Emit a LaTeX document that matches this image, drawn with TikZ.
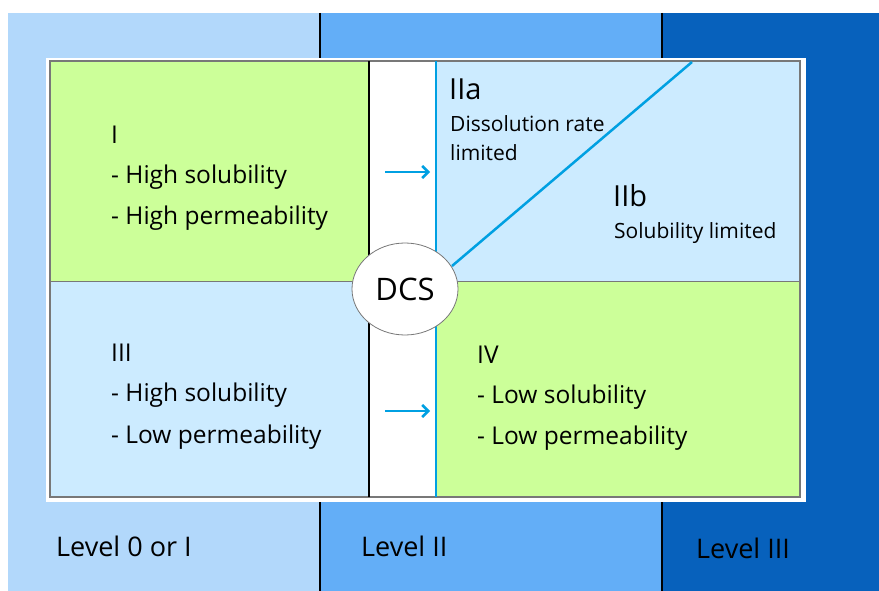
\documentclass[tikz,border=0pt]{standalone}
\usepackage{fontspec}
\setmainfont{Open Sans}
\usetikzlibrary{arrows.meta,shapes.geometric}
\definecolor{bandA}{RGB}{178,216,251}
\definecolor{bandB}{RGB}{99,174,247}
\definecolor{bandC}{RGB}{7,97,188}
\definecolor{qgreen}{RGB}{204,255,153}
\definecolor{qblue}{RGB}{204,235,255}
\definecolor{lineblue}{RGB}{0,160,226}
\definecolor{frame}{RGB}{120,120,120}
\tikzset{
  txt/.style={anchor=base west, inner sep=0pt, font=\fontsize{24.5}{24.5}\selectfont},
  small/.style={anchor=base west, inner sep=0pt, font=\fontsize{21}{21}\selectfont},
  big/.style={anchor=base west, inner sep=0pt, font=\fontsize{29}{29}\selectfont},
  lvl/.style={anchor=base west, inner sep=0pt, font=\fontsize{27}{27}\selectfont},
  blueline/.style={draw=lineblue, line width=2pt},
  flowarrow/.style={draw=lineblue, line width=2.5pt, -{Straight Barb[length=6pt,width=12pt,line width=2.5pt]}},
  divider/.style={draw=black, line width=2pt}
}
\begin{document}
\begin{tikzpicture}[x=1pt,y=-1pt]
\useasboundingbox (0,0) rectangle (879,591);
% level bands
\fill[bandA] (8,13) rectangle (320,591);
\fill[bandB] (320,13) rectangle (662,591);
\fill[bandC] (662,13) rectangle (879,591);
\draw[divider] (320,13) -- (320,58);
\draw[divider] (662,13) -- (662,58);
\draw[divider] (320,502) -- (320,591);
\draw[divider] (662,502) -- (662,591);
% white panel
\fill[white] (46,58) rectangle (806,502);
% quadrants
\fill[qgreen] (50,61) rectangle (369,281);
\fill[qblue] (50,281) rectangle (369,497);
\fill[white] (369,61) rectangle (436,497);
\fill[qblue] (436,61) rectangle (800,281);
\fill[qgreen] (436,281) rectangle (800,497);
\draw[frame, line width=0.8pt] (50,281) -- (800,281);
\draw[frame, line width=1.5pt] (50,61) rectangle (800,497);
\draw[divider, line width=2.3pt] (369,61) -- (369,497);
\draw[blueline] (436,61) -- (436,497);
% diagonal
\coordinate (dtop) at (692,62);
\coordinate (dbot) at (452,266);
\draw[blueline, line width=2.5pt] (dbot) -- (dtop);
% DCS
\node[ellipse, draw=frame, fill=white, line width=0.8pt, minimum width=106pt, minimum height=92pt, inner sep=0pt, font=\fontsize{31}{31}\selectfont] (dcs) at (405,289) {DCS};
% arrows
\coordinate (a1s) at (385,172);
\coordinate (a1e) at (430,172);
\coordinate (a2s) at (385,411);
\coordinate (a2e) at (430,411);
\draw[flowarrow] (a1s) -- (a1e);
\draw[flowarrow] (a2s) -- (a2e);
% texts quadrant I
\node[txt] (t1) at (111,144) {I};
\node[txt] (t1a) at (111,184) {- High solubility};
\node[txt] (t1b) at (111,225) {- High permeability};
% III
\node[txt] (t3) at (111,361) {III};
\node[txt] (t3a) at (111,401) {- High solubility};
\node[txt] (t3b) at (111,443) {- Low permeability};
% IV
\node[txt] (t4) at (477,363) {IV};
\node[txt] (t4a) at (477,403) {- Low solubility};
\node[txt] (t4b) at (477,444) {- Low permeability};
% IIa / IIb
\node[big] (t2a) at (449,100) {IIa};
\node[small] (t2a1) at (450,132) {Dissolution rate};
\node[small] (t2a2) at (450,161) {limited};
\node[big] (t2b) at (613,207) {IIb};
\node[small] (t2b1) at (614,238) {Solubility limited};
% levels
\node[lvl] (l0) at (56,556) {Level 0 or I};
\node[lvl] (l2) at (361,556) {Level II};
\node[lvl] (l3) at (696,558) {Level III};
\end{tikzpicture}
\end{document}
